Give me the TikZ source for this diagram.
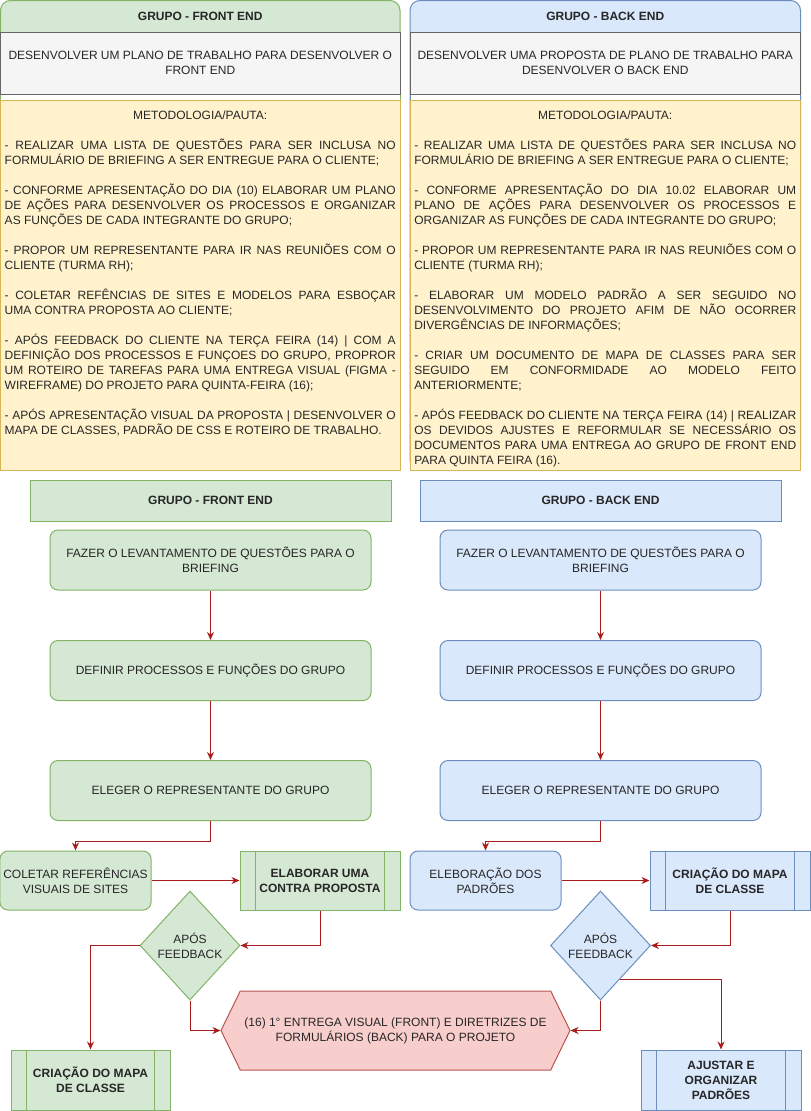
\documentclass[tikz,border=0pt]{standalone}
\usepackage{fontspec}
\setmainfont{Liberation Sans}
\usepackage{xcolor}
\usepackage{tikz}
\usetikzlibrary{shapes.geometric, shapes.symbols, arrows.meta, positioning, calc}
\definecolor{verde}{HTML}{D5E8D4}
\definecolor{verdeborda}{HTML}{82B366}
\definecolor{azul}{HTML}{DAE8FC}
\definecolor{azulborda}{HTML}{6C8EBF}
\definecolor{amarelo}{HTML}{FFF2CC}
\definecolor{amareloborda}{HTML}{D6B656}
\definecolor{cinza}{HTML}{F5F5F5}
\definecolor{cinzaborda}{HTML}{666666}
\definecolor{vermelho}{HTML}{F8CECC}
\definecolor{vermelhoborda}{HTML}{B85450}
\definecolor{seta}{HTML}{A81C1C}
\definecolor{texto}{HTML}{262626}
\newcommand{\fonte}{\fontsize{12}{15}\selectfont\parindent=0pt}
\newcommand{\pausa}{\par\vspace{15pt}}
\tikzstyle{arrow} = [line width=1pt, draw=seta, -{Stealth[length=8pt, width=7pt]}]
\tikzstyle{frente} = [draw=verdeborda, fill=verde]
\tikzstyle{tras} = [draw=azulborda, fill=azul]
\tikzstyle{grupo} = [rectangle, minimum width=361pt, minimum height=41pt, font=\fonte\bfseries]
\tikzstyle{etapa} = [rectangle, rounded corners=8pt, minimum width=321pt, minimum height=60pt, align=center]
\tikzstyle{passo} = [rectangle, rounded corners=8pt, minimum width=151pt, minimum height=59pt, align=center]
\tikzstyle{processo} = [rectangle, minimum width=160pt, minimum height=59pt, align=center, font=\fonte\bfseries]
\tikzstyle{decisao} = [diamond, aspect=0.92, minimum width=100pt, minimum height=109pt, inner sep=0pt, align=center]
\tikzstyle{entrega} = [signal, signal to=west and east, signal pointer angle=128, minimum width=349pt, minimum height=79pt, draw=vermelhoborda, fill=vermelho, align=center]
\tikzstyle{objetivo} = [rectangle, minimum height=62pt, draw=cinzaborda, fill=cinza, align=center]
\tikzstyle{pauta} = [anchor=north, align=justify, inner sep=0pt]
\begin{document}
\begin{tikzpicture}[x=1pt, y=-1pt, font=\fonte, text=texto, line width=1pt]
    \useasboundingbox (0,0) rectangle (811,1111);

    % Quadro - front end
    \filldraw[fill=verde, draw=verdeborda, rounded corners=10pt] (0.5,0.5) rectangle (400,470);
    \filldraw[fill=white, draw=verdeborda] (0.5,32) rectangle (400,470);
    \node[font=\fonte\bfseries] (tfe) at (200.25,16) {GRUPO - FRONT END};
    \node[objetivo, minimum width=399.5pt] (objfe) at (200.25,63) {DESENVOLVER UM PLANO DE TRABALHO PARA DESENVOLVER O\\FRONT END};
    \filldraw[fill=amarelo, draw=amareloborda] (0.5,100) rectangle (400,470);
    \node[pauta, text width=391pt] (pautafe) at (200.25,110) {\centerline{METODOLOGIA/PAUTA:}\vspace{15pt}
        - REALIZAR UMA LISTA DE QUESTÕES PARA SER INCLUSA NO\linebreak FORMULÁRIO DE BRIEFING A SER ENTREGUE PARA O CLIENTE;\pausa
        - CONFORME APRESENTAÇÃO DO DIA (10) ELABORAR UM PLANO\linebreak DE AÇÕES PARA DESENVOLVER OS PROCESSOS E ORGANIZAR\linebreak AS FUNÇÕES DE CADA INTEGRANTE DO GRUPO;\pausa
        - PROPOR UM REPRESENTANTE PARA IR NAS REUNIÕES COM O\linebreak CLIENTE (TURMA RH);\pausa
        - COLETAR REFÊNCIAS DE SITES E MODELOS PARA ESBOÇAR\linebreak UMA CONTRA PROPOSTA AO CLIENTE;\pausa
        - APÓS FEEDBACK DO CLIENTE NA TERÇA FEIRA (14) | COM A\linebreak DEFINIÇÃO DOS PROCESSOS E FUNÇOES DO GRUPO, PROPROR\linebreak UM ROTEIRO DE TAREFAS PARA UMA ENTREGA VISUAL (FIGMA -\linebreak WIREFRAME) DO PROJETO PARA QUINTA-FEIRA (16);\pausa
        - APÓS APRESENTAÇÃO VISUAL DA PROPOSTA | DESENVOLVER O\linebreak MAPA DE CLASSES, PADRÃO DE CSS E ROTEIRO DE TRABALHO.};

    % Quadro - back end
    \filldraw[fill=azul, draw=azulborda, rounded corners=10pt] (410,0.5) rectangle (800.5,470);
    \filldraw[fill=white, draw=azulborda] (410,32) rectangle (800.5,470);
    \node[font=\fonte\bfseries] (tbe) at (605.25,16) {GRUPO - BACK END};
    \node[objetivo, minimum width=390.5pt] (objbe) at (605.25,63) {DESENVOLVER UMA PROPOSTA DE PLANO DE TRABALHO PARA\\DESENVOLVER O BACK END};
    \filldraw[fill=amarelo, draw=amareloborda] (410,100) rectangle (800.5,470);
    \node[pauta, text width=382pt] (pautabe) at (605.25,110) {\centerline{METODOLOGIA/PAUTA:}\vspace{15pt}
        - REALIZAR UMA LISTA DE QUESTÕES PARA SER INCLUSA NO\linebreak FORMULÁRIO DE BRIEFING A SER ENTREGUE PARA O CLIENTE;\pausa
        - CONFORME APRESENTAÇÃO DO DIA 10.02 ELABORAR UM\linebreak PLANO DE AÇÕES PARA DESENVOLVER OS PROCESSOS E\linebreak ORGANIZAR AS FUNÇÕES DE CADA INTEGRANTE DO GRUPO;\pausa
        - PROPOR UM REPRESENTANTE PARA IR NAS REUNIÕES COM O\linebreak CLIENTE (TURMA RH);\pausa
        - ELABORAR UM MODELO PADRÃO A SER SEGUIDO NO\linebreak DESENVOLVIMENTO DO PROJETO AFIM DE NÃO OCORRER\linebreak DIVERGÊNCIAS DE INFORMAÇÕES;\pausa
        - CRIAR UM DOCUMENTO DE MAPA DE CLASSES PARA SER\linebreak SEGUIDO EM CONFORMIDADE AO MODELO FEITO\linebreak ANTERIORMENTE;\pausa
        - APÓS FEEDBACK DO CLIENTE NA TERÇA FEIRA (14) | REALIZAR\linebreak OS DEVIDOS AJUSTES E REFORMULAR SE NECESSÁRIO OS\linebreak DOCUMENTOS PARA UMA ENTREGA AO GRUPO DE FRONT END\linebreak PARA QUINTA FEIRA (16).};

    % Fluxo - front end
    \node[grupo, frente] (gfe) at (210.5,500.5) {GRUPO - FRONT END};
    \node[etapa, frente] (fazerfe) at (210.5,560) {FAZER O LEVANTAMENTO DE QUESTÕES PARA O\\BRIEFING};
    \node[etapa, frente, below=49.5pt of fazerfe] (definirfe) {DEFINIR PROCESSOS E FUNÇÕES DO GRUPO};
    \node[etapa, frente, below=59pt of definirfe] (elegerfe) {ELEGER O REPRESENTANTE DO GRUPO};
    \node[passo, frente] (coletar) at (75.5,880.5) {COLETAR REFERÊNCIAS\\VISUAIS DE SITES};
    \node[processo, frente] (elab) at (320,880.5) {ELABORAR UMA\\CONTRA PROPOSTA};
    \node[decisao, frente] (dfe) at (190,945.5) {APÓS\\FEEDBACK};
    \node[processo, frente, minimum width=159pt, minimum height=60pt] (mapafe) at (90.5,1080) {CRIAÇÃO DO MAPA\\DE CLASSE};

    % Fluxo - back end
    \node[grupo, tras] (gbe) at (600.5,500.5) {GRUPO - BACK END};
    \node[etapa, tras] (fazerbe) at (600.5,560) {FAZER O LEVANTAMENTO DE QUESTÕES PARA O\\BRIEFING};
    \node[etapa, tras, below=49.5pt of fazerbe] (definirbe) {DEFINIR PROCESSOS E FUNÇÕES DO GRUPO};
    \node[etapa, tras, below=59pt of definirbe] (elegerbe) {ELEGER O REPRESENTANTE DO GRUPO};
    \node[passo, tras] (padroes) at (485.5,880.5) {ELEBORAÇÃO DOS\\PADRÕES};
    \node[processo, tras] (mapabe) at (730,880.5) {CRIAÇÃO DO MAPA\\DE CLASSE};
    \node[decisao, tras] (dbe) at (600.5,945.5) {APÓS\\FEEDBACK};
    \node[processo, tras, minimum height=60pt] (ajuste) at (721,1080) {AJUSTAR E\\ORGANIZAR\\PADRÕES};

    % Entrega
    \node[entrega] (entrega) at (395.5,1030.5) {(16) 1° ENTREGA VISUAL (FRONT) E DIRETRIZES DE\\FORMULÁRIOS (BACK) PARA O PROJETO};

    % Linhas internas dos processos
    \foreach \n/\c in {elab/verdeborda, mapafe/verdeborda, mapabe/azulborda, ajuste/azulborda}{
        \draw[draw=\c] ([xshift=16pt]\n.north west) -- ([xshift=16pt]\n.south west);
        \draw[draw=\c] ([xshift=-16pt]\n.north east) -- ([xshift=-16pt]\n.south east);
    }

    % Conexoes
    \draw[arrow] (fazerfe) -- (definirfe);
    \draw[arrow] (definirfe) -- (elegerfe);
    \draw[arrow] (elegerfe.south) -- ++(0,20) -| (coletar.north);
    \draw[arrow] (coletar) -- (elab);
    \draw[arrow] (elab.south) |- (dfe.east);
    \draw[arrow] (dfe.west) -| (mapafe.north);
    \draw[arrow] (dfe.south) |- (entrega.west);

    \draw[arrow] (fazerbe) -- (definirbe);
    \draw[arrow] (definirbe) -- (elegerbe);
    \draw[arrow] (elegerbe.south) -- ++(0,20) -| (padroes.north);
    \draw[arrow] (padroes) -- (mapabe);
    \draw[arrow] (mapabe.south) |- (dbe.east);
    \draw[arrow] (dbe.south) |- (entrega.east);
    \draw[arrow] (dbe.-60) -| (ajuste.north);

\end{tikzpicture}
\end{document}
